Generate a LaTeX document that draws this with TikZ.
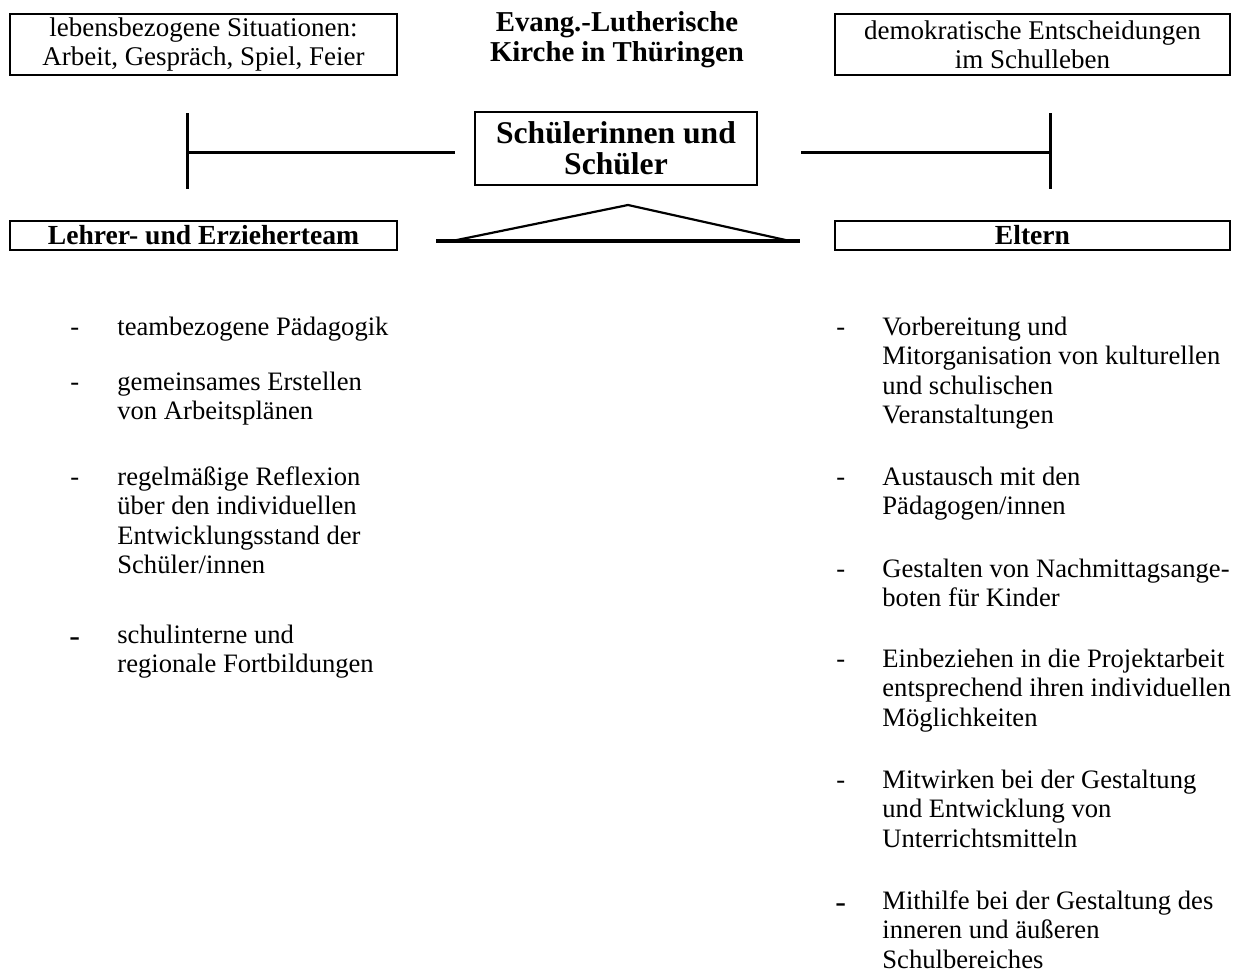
\documentclass[tikz,border=0pt]{standalone}
\usepackage{fontspec}
\setmainfont{Liberation Serif}
\begin{document}
\begin{tikzpicture}[x=0.5pt,y=-0.5pt,
  box/.style={draw, line width=0.7pt, inner sep=0pt, align=center},
  toptext/.style={font=\fontsize{13.5}{14.5}\selectfont},
  boldhead/.style={font=\bfseries\fontsize{13.8}{14.5}\selectfont},
  listtext/.style={anchor=base west, inner sep=0pt, font=\fontsize{13.3}{14.8}\selectfont},
  dashmark/.style={anchor=base west, inner sep=0pt, font=\fontsize{13.3}{14.8}\selectfont},
  bigdash/.style={anchor=base west, inner sep=0pt, font=\fontsize{16}{16}\selectfont},
  tline/.style={line width=1.5pt},
  triside/.style={line width=1.1pt},
  tribase/.style={line width=2.2pt}
]
\useasboundingbox (0,0) rectangle (1238,976);

% top boxes
\node[box, toptext, minimum width=193.5pt, minimum height=30.5pt] (life) at (203.5,44.5)
  {lebensbezogene Situationen:\\Arbeit, Gespräch, Spiel, Feier};
\node[box, toptext, minimum width=197.5pt, minimum height=30.5pt] (demo) at (1032.5,44.5)
  {demokratische Entscheidungen\\im Schulleben};
\node[inner sep=0pt, align=center, font=\bfseries\fontsize{14.4}{15}\selectfont] (kirche) at (617,40)
  {Evang.-Lutherische\\Kirche in Thüringen};

% central box
\node[box, font=\bfseries\fontsize{15.8}{15.5}\selectfont, minimum width=141pt, minimum height=36.5pt] (sus) at (616,148.5)
  {Schülerinnen und\\Schüler};

% lower boxes
\node[box, boldhead, minimum width=193.5pt, minimum height=14.5pt] (team) at (203.5,235.5)
  {Lehrer- und Erzieherteam};
\node[box, boldhead, minimum width=197.5pt, minimum height=14.5pt] (eltern) at (1032.5,235.5)
  {Eltern};

% T connectors
\coordinate (lt) at (187,113);
\coordinate (lb) at (187,189);
\coordinate (lm) at (187,152);
\coordinate (le) at (455,152);
\coordinate (rt) at (1050,113);
\coordinate (rb) at (1050,189);
\coordinate (rm) at (1050,152);
\coordinate (re) at (801,152);
\draw[tline] (lt) -- (lb);
\draw[tline] (lm) -- (le);
\draw[tline] (rt) -- (rb);
\draw[tline] (rm) -- (re);

% triangle
\coordinate (apex) at (628,205);
\coordinate (tbl) at (436,241);
\coordinate (tbr) at (800,241);
\coordinate (tsl) at (452,241);
\coordinate (tsr) at (790,241);
\draw[triside, line join=miter] (tsl) -- (apex) -- (tsr);
\draw[tribase] (tbl) -- (tbr);

% left list
\node[dashmark] (ld1) at (70,335) {-};
\node[listtext] (li1) at (117,335) {teambezogene Pädagogik};
\node[dashmark] (ld2) at (70,390) {-};
\node[listtext] (li2) at (117,390) {\parbox[t]{300pt}{gemeinsames Erstellen\\von Arbeitsplänen}};
\node[dashmark] (ld3) at (70,485) {-};
\node[listtext] (li3) at (117,485) {\parbox[t]{300pt}{regelmäßige Reflexion\\über den individuellen\\Entwicklungsstand der\\Schüler/innen}};
\node[bigdash] (ld4) at (69,646) {-};
\node[listtext] (li4) at (117,643) {\parbox[t]{300pt}{schulinterne und\\regionale Fortbildungen}};

% right list
\node[dashmark] (rd1) at (836,335) {-};
\node[listtext] (ri1) at (882,335) {\parbox[t]{300pt}{Vorbereitung und\\Mitorganisation von kulturellen\\und schulischen\\Veranstaltungen}};
\node[dashmark] (rd2) at (836,485) {-};
\node[listtext] (ri2) at (882,485) {\parbox[t]{300pt}{Austausch mit den\\Pädagogen/innen}};
\node[dashmark] (rd3) at (836,577) {-};
\node[listtext] (ri3) at (882,577) {\parbox[t]{300pt}{Gestalten von Nachmittagsange-\\boten für Kinder}};
\node[dashmark] (rd4) at (836,667) {-};
\node[listtext] (ri4) at (882,667) {\parbox[t]{300pt}{Einbeziehen in die Projektarbeit\\entsprechend ihren individuellen\\Möglichkeiten}};
\node[dashmark] (rd5) at (836,788) {-};
\node[listtext] (ri5) at (882,788) {\parbox[t]{300pt}{Mitwirken bei der Gestaltung\\und Entwicklung von\\Unterrichtsmitteln}};
\node[bigdash] (rd6) at (835,912) {-};
\node[listtext] (ri6) at (882,909) {\parbox[t]{300pt}{Mithilfe bei der Gestaltung des\\inneren und äußeren\\Schulbereiches}};
\end{tikzpicture}
\end{document}
